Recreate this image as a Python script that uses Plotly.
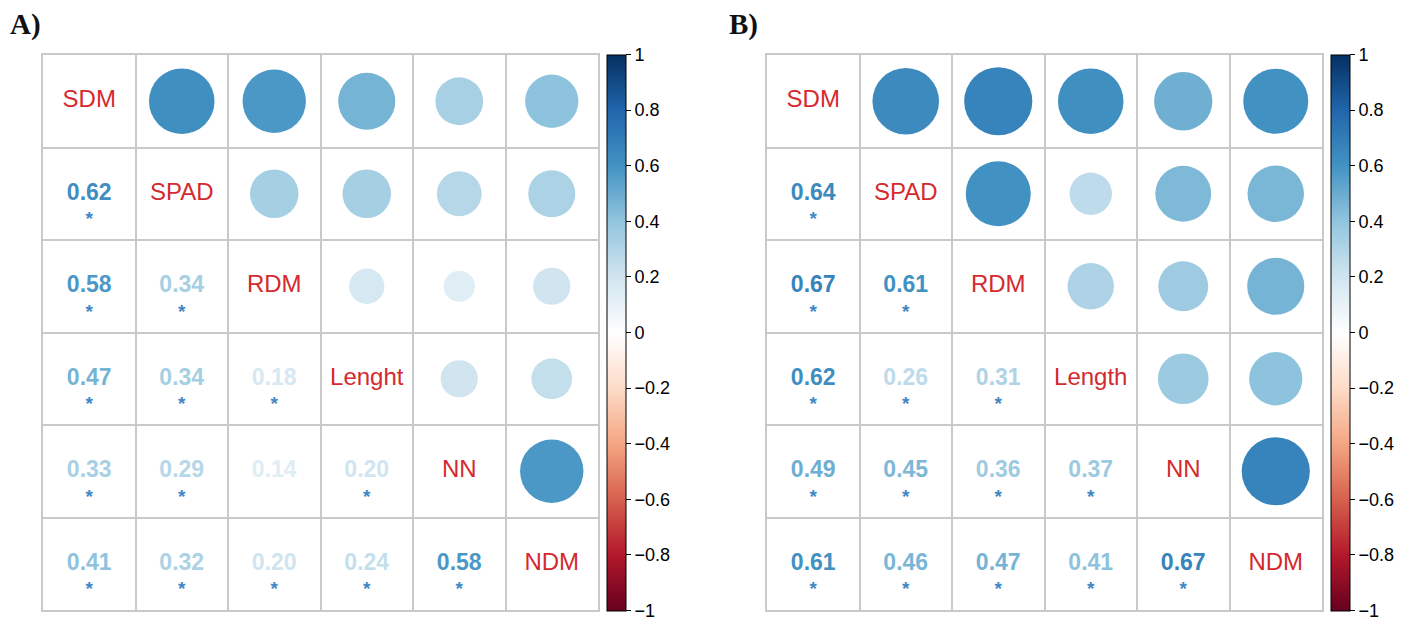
import numpy as np
import plotly.graph_objects as go

W, H = 1408, 619
variables_a = ["SDM", "SPAD", "RDM", "Lenght", "NN", "NDM"]
variables_b = ["SDM", "SPAD", "RDM", "Length", "NN", "NDM"]

# lower-triangle correlations, row by row (row i, columns 0..i-1)
corr_a = [
    [],
    [0.62],
    [0.58, 0.34],
    [0.47, 0.34, 0.18],
    [0.33, 0.29, 0.14, 0.20],
    [0.41, 0.32, 0.20, 0.24, 0.58],
]
sig_a = [
    [],
    [1],
    [1, 1],
    [1, 1, 1],
    [1, 1, 0, 1],
    [1, 1, 1, 1, 1],
]
corr_b = [
    [],
    [0.64],
    [0.67, 0.61],
    [0.62, 0.26, 0.31],
    [0.49, 0.45, 0.36, 0.37],
    [0.61, 0.46, 0.47, 0.41, 0.67],
]
sig_b = [
    [],
    [1],
    [1, 1],
    [1, 1, 1],
    [1, 1, 1, 1],
    [1, 1, 1, 1, 1],
]
panel_titles = ["A)", "B)"]
cbar_ticks = [1, 0.8, 0.6, 0.4, 0.2, 0, -0.2, -0.4, -0.6, -0.8, -1]
cbar_labels = ["1", "0.8", "0.6", "0.4", "0.2", "0",
               "\u22120.2", "\u22120.4", "\u22120.6", "\u22120.8", "\u22121"]

rdbu = ["#67001F", "#B2182B", "#D6604D", "#F4A582", "#FDDBC7", "#FFFFFF",
        "#D1E5F0", "#92C5DE", "#4393C3", "#2166AC", "#053061"]
colorscale = [[k / 10, c] for k, c in enumerate(rdbu)]


def hex2rgb(h):
    h = h.lstrip("#")
    return [int(h[i:i + 2], 16) for i in (0, 2, 4)]


def col_for(v):
    t = (v + 1) / 2 * 10
    k = min(int(np.floor(t)), 9)
    f = t - k
    a, b = hex2rgb(rdbu[k]), hex2rgb(rdbu[k + 1])
    c = [round(a[i] + (b[i] - a[i]) * f) for i in range(3)]
    return "rgb(%d,%d,%d)" % tuple(c)


LABEL_RED = "#d42a2f"
STAR_BLUE = "#3f88c3"
GRID = "#c9c9c9"
FONT = "Liberation Sans"

panels = [
    dict(vars=variables_a, corr=corr_a, sig=sig_a, x0=43, x1=598, cb=607, tx=8),
    dict(vars=variables_b, corr=corr_b, sig=sig_b, x0=767, x1=1322, cb=1331, tx=727),
]
y_top, y_bot = 55, 610

fig = go.Figure()
n = 6
for p_i, P in enumerate(panels):
    xa = "x" if p_i == 0 else "x2"
    ya = "y" if p_i == 0 else "y2"
    cell_px = (P["x1"] - P["x0"]) / n
    full = [[None] * n for _ in range(n)]
    for i in range(n):
        full[i][i] = 1.0
        for j, v in enumerate(P["corr"][i]):
            full[i][j] = v
            full[j][i] = v
    # circles (upper triangle)
    cx, cy, cv, cs = [], [], [], []
    for i in range(n):
        for j in range(i + 1, n):
            v = full[i][j]
            cx.append(j + 1)
            cy.append(i + 1)
            cv.append(v)
            cs.append(0.9 * np.sqrt(abs(v)) * cell_px)
    fig.add_trace(go.Scatter(
        x=cx, y=cy, xaxis=xa, yaxis=ya, mode="markers", hoverinfo="skip",
        marker=dict(size=cs, color=cv, cmin=-1, cmax=1, colorscale=colorscale,
                    line=dict(width=0), opacity=1,
                    showscale=True,
                    colorbar=dict(
                        x=P["cb"] / W, xanchor="left", xref="paper",
                        y=1 - (y_top + y_bot) / 2 / H, yanchor="middle",
                        len=(y_bot - y_top + 1) / H, lenmode="fraction",
                        thickness=19, thicknessmode="pixels",
                        outlinecolor="black", outlinewidth=1,
                        borderwidth=0, xpad=0, ypad=0,
                        ticks="outside", ticklen=5, tickcolor="black", tickwidth=1,
                        tickvals=cbar_ticks,
                        ticktext=cbar_labels,
                        ticklabeloverflow="allow",
                        tickfont=dict(family=FONT, size=18, color="black"),
                    )),
        showlegend=False))
    # diagonal labels
    fig.add_trace(go.Scatter(
        x=list(range(1, n + 1)), y=list(range(1, n + 1)), xaxis=xa, yaxis=ya,
        mode="text", text=P["vars"], hoverinfo="skip", showlegend=False,
        textfont=dict(family=FONT, size=24, color=LABEL_RED)))
    # numbers (lower triangle)
    tx, ty, tt, tc = [], [], [], []
    sx, sy = [], []
    for i in range(n):
        for j, v in enumerate(P["corr"][i]):
            tx.append(j + 1)
            ty.append(i + 1)
            tt.append("<b>%.2f</b>" % v)
            tc.append(col_for(v))
            if P["sig"][i][j]:
                sx.append(j + 1)
                sy.append(i + 1 + 0.29)
    fig.add_trace(go.Scatter(
        x=tx, y=ty, xaxis=xa, yaxis=ya, mode="text", text=tt, hoverinfo="skip",
        showlegend=False, textfont=dict(family=FONT, size=23, color=tc)))
    fig.add_trace(go.Scatter(
        x=sx, y=sy, xaxis=xa, yaxis=ya, mode="text", text=["<b>*</b>"] * len(sx),
        hoverinfo="skip", showlegend=False,
        textfont=dict(family=FONT, size=19, color=STAR_BLUE)))

    ax = dict(domain=[P["x0"] / W, P["x1"] / W], range=[0.5, n + 0.5],
              tickvals=[k + 0.5 for k in range(n + 1)], showticklabels=False,
              ticks="", showgrid=True, gridcolor=GRID, gridwidth=1.5,
              zeroline=False, showline=True, mirror=True, linecolor=GRID, linewidth=1.5,
              fixedrange=True)
    ay = dict(domain=[1 - y_bot / H, 1 - y_top / H], range=[n + 0.5, 0.5],
              tickvals=[k + 0.5 for k in range(n + 1)], showticklabels=False,
              ticks="", showgrid=True, gridcolor=GRID, gridwidth=1.5,
              zeroline=False, showline=True, mirror=True, linecolor=GRID, linewidth=1.5,
              fixedrange=True)
    if p_i == 0:
        fig.update_layout(xaxis=dict(ax, anchor="y"), yaxis=dict(ay, anchor="x"))
    else:
        fig.update_layout(xaxis2=dict(ax, anchor="y2"), yaxis2=dict(ay, anchor="x2"))

    fig.add_annotation(text="<b>%s</b>" % panel_titles[p_i], xref="paper", yref="paper",
                       x=P["tx"] / W, y=1 - 6 / H, xanchor="left", yanchor="top",
                       showarrow=False,
                       font=dict(family="Liberation Serif", size=29, color="#111111"))

fig.update_layout(width=W, height=H, margin=dict(l=0, r=0, t=0, b=0),
                  paper_bgcolor="white", plot_bgcolor="white")
fig.write_html("out.html")
